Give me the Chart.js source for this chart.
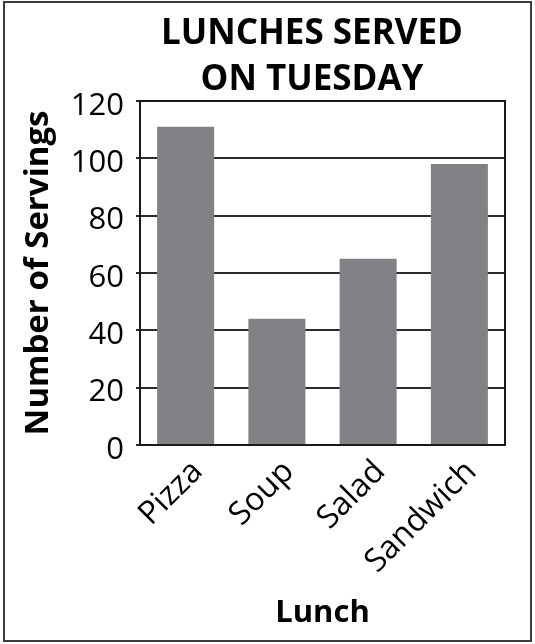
<!DOCTYPE html>
<html>
<head>
<meta charset="utf-8">
<script src="https://cdn.jsdelivr.net/npm/chart.js@4/dist/chart.umd.min.js"></script>
<style>
  html, body { margin: 0; padding: 0; background: #fff; }
  #wrap { width: 535px; height: 644px; position: relative; }
  canvas { display: block; }
</style>
</head>
<body>
<div id="wrap"><canvas id="c" width="535" height="644"></canvas></div>
<script>
const titleLines = ["LUNCHES SERVED", "ON TUESDAY"];
const categories = ["Pizza", "Soup", "Salad", "Sandwich"];
const servings = [111, 44, 65, 98];
const yTicks = [0, 20, 40, 60, 80, 100, 120];
const yAxisTitle = "Number of Servings";
const xAxisTitle = "Lunch";

const FONT = "'Open Sans', 'DejaVu Sans', sans-serif";

const framePlugin = {
  id: 'frame',
  afterDatasetsDraw(chart) {
    const { ctx, chartArea: a } = chart;
    ctx.save();
    ctx.strokeStyle = '#1a1a1a';
    ctx.lineWidth = 2;
    ctx.strokeRect(a.left, a.top, a.right - a.left, a.bottom - a.top);
    ctx.restore();
  },
  afterDraw(chart) {
    const { ctx } = chart;
    ctx.save();
    ctx.strokeStyle = '#3c3c3c';
    ctx.lineWidth = 2;
    ctx.strokeRect(4, 2, 527, 639);
    ctx.fillStyle = '#000';
    ctx.font = "bold 35px " + FONT;
    ctx.textAlign = 'center';
    ctx.textBaseline = 'middle';
    titleLines.forEach((t, i) => ctx.fillText(t, 312, 34 + i * 46));
    ctx.restore();
  }
};

new Chart(document.getElementById('c'), {
  type: 'bar',
  data: {
    labels: categories,
    datasets: [{
      data: servings,
      backgroundColor: '#818285',
      borderWidth: 0,
      categoryPercentage: 1.0,
      barPercentage: 0.625
    }]
  },
  options: {
    responsive: false,
    animation: false,
    devicePixelRatio: 1,
    layout: { padding: { left: 0, right: 30, top: 101, bottom: 0 } },
    plugins: {
      legend: { display: false },
      tooltip: { enabled: false },
      title: { display: false }
    },
    scales: {
      x: {
        grid: { display: false, drawTicks: false },
        border: { display: false },
        ticks: {
          color: '#000',
          font: { family: FONT, size: 32 },
          minRotation: 45,
          maxRotation: 45,
          padding: 8,
          labelOffset: 12
        },
        title: {
          display: true,
          text: xAxisTitle,
          color: '#000',
          font: { family: FONT, size: 31, weight: 'bold' },
          padding: { top: 0, bottom: 12 }
        },
        afterFit(scale) { scale.height = 199; }
      },
      y: {
        min: 0,
        max: 120,
        afterBuildTicks(scale) { scale.ticks = yTicks.map(v => ({ value: v })); },
        grid: { color: '#2b2b2b', lineWidth: 2, tickLength: 4, drawTicks: true },
        border: { display: false },
        ticks: {
          color: '#000',
          font: { family: FONT, size: 31 },
          padding: 12,
          labelOffset: 5
        },
        title: {
          display: true,
          text: yAxisTitle,
          color: '#000',
          font: { family: FONT, size: 33, weight: 'bold' },
          padding: { top: 19, bottom: 0 }
        },
        afterFit(scale) { scale.width = 140; }
      }
    }
  },
  plugins: [framePlugin]
});
</script>
</body>
</html>
